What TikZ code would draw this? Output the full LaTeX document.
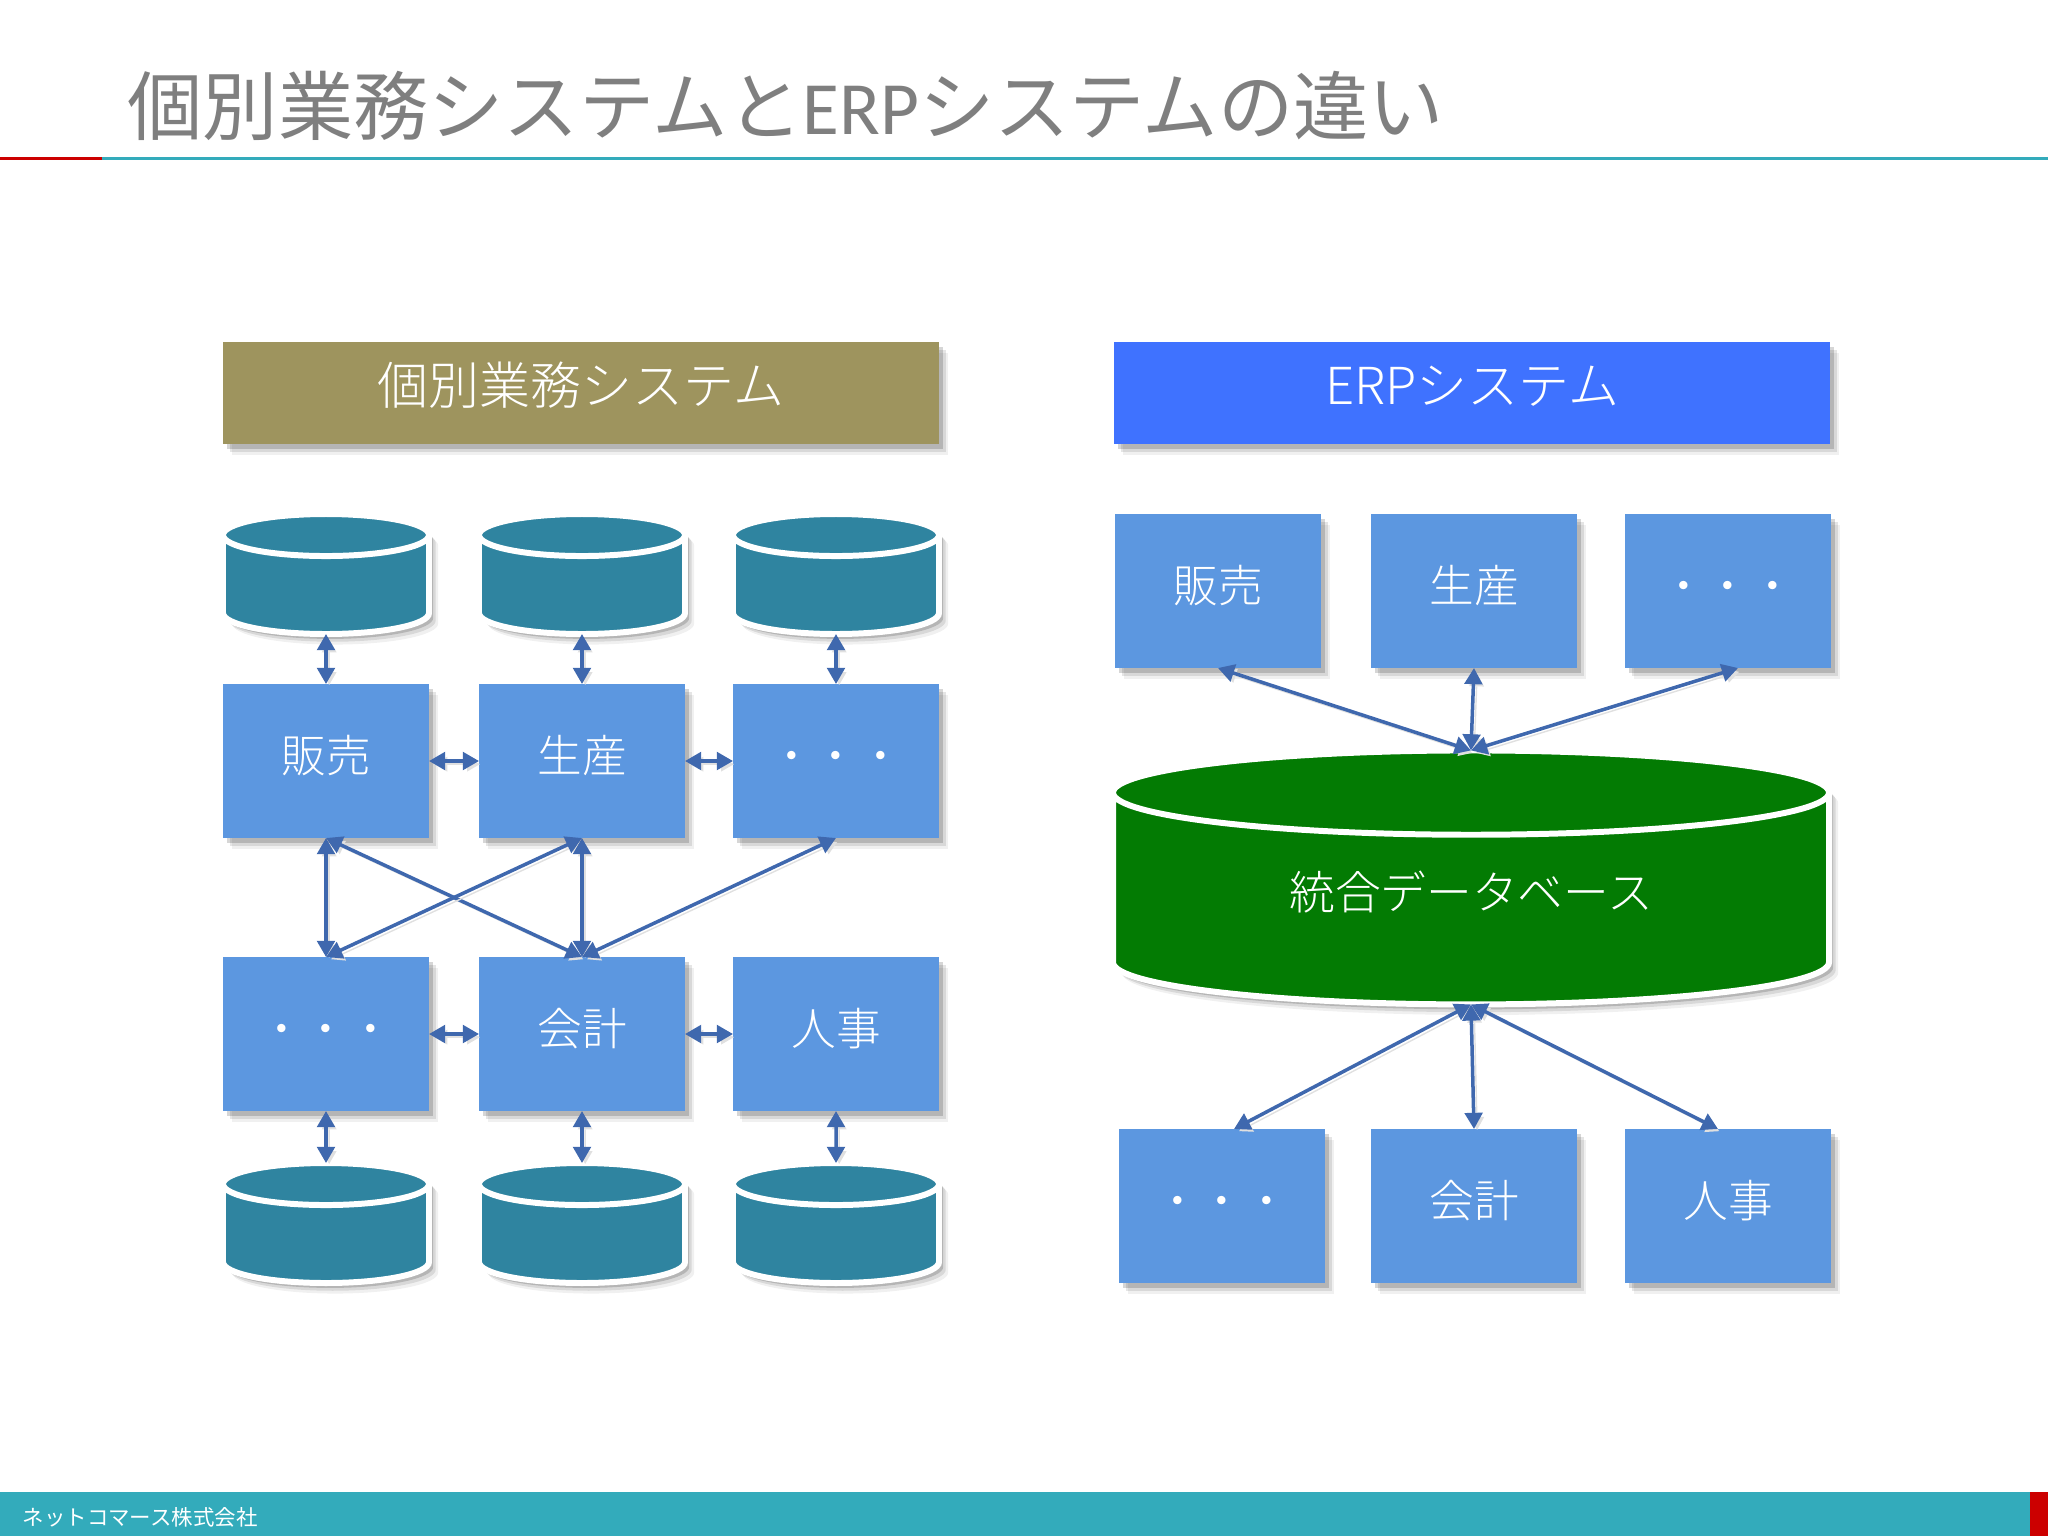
\documentclass[tikz,border=0pt]{standalone}
\usepackage{fontspec}
\setmainfont{Noto Sans CJK JP}
\newfontfamily\lightjp{Noto Sans CJK JP Light}
\newfontfamily\latinpart{Carlito}
\usetikzlibrary{shapes.geometric,arrows.meta,shadows}
\definecolor{boxblue}{HTML}{5C97E0}
\definecolor{dbteal}{HTML}{2F84A0}
\definecolor{dbgreen}{HTML}{037B03}
\definecolor{headtan}{HTML}{9E945E}
\definecolor{headblue}{HTML}{3F72FF}
\definecolor{arrowblue}{HTML}{3F68AE}
\definecolor{barteal}{HTML}{33ABBB}
\definecolor{barred}{HTML}{CC0000}
\definecolor{titlegray}{HTML}{7F7F7F}
\newcommand{\dbfill}{\rule{2cm}{0pt}}
\tikzset{
  softshadow/.style={
    general shadow={shadow xshift=2.6pt,shadow yshift=-3pt,opacity=.06,fill=black},
    general shadow={shadow xshift=1.9pt,shadow yshift=-2.2pt,opacity=.1,fill=black},
    general shadow={shadow xshift=1.2pt,shadow yshift=-1.4pt,opacity=.16,fill=black}},
  headbox/.style={draw=none, softshadow, minimum width=716*0.01cm, minimum height=102*0.01cm, inner sep=0pt, outer sep=0pt, text=white, text height=12.8pt, text depth=6.4pt, font=\lightjp\fontsize{14.5}{17}\selectfont},
  func/.style={draw=none, softshadow, fill=boxblue, minimum width=206*0.01cm, minimum height=154*0.01cm, inner sep=0pt, outer sep=0pt, text=white, text height=11pt, text depth=4.3pt, font=\lightjp\fontsize{12.7}{15}\selectfont},
  db/.style={cylinder, shape border rotate=90, draw=white, line width=1.7pt, fill=dbteal, softshadow, minimum width=206*0.01cm, minimum height=120*0.01cm, shape aspect=0.21, inner sep=0pt, outer sep=0pt},
  link/.style={arrowblue, line width=1pt, {Triangle[length=4.6pt,width=5pt]}-{Triangle[length=4.6pt,width=5pt]},
    preaction={draw=black!12, transform canvas={xshift=.9pt,yshift=-.9pt}}},
}
\begin{document}
\begin{tikzpicture}[x=0.01cm,y=-0.01cm]
  \useasboundingbox (0,0) rectangle (2048,1536);
  % title and bars
  \node [anchor=west, inner sep=0pt, text=titlegray, font=\fontsize{21.4}{25}\selectfont] (title) at (127,106) {個別業務システムと{\latinpart ERP}システムの違い};
  \fill [barred] (0,157) rectangle (102,160);
  \fill [barteal] (102,157) rectangle (2048,160);
  \fill [barteal] (0,1492) rectangle (2048,1536);
  \fill [barred] (2030,1492) rectangle (2048,1536);
  \node [anchor=west, inner sep=0pt, text=white, font=\fontsize{6.1}{7}\selectfont] (foot) at (22,1517) {ネットコマース株式会社};
  % left side
  \node [headbox, fill=headtan] (hl) at (581,393) {個別業務システム};
  \node [db] (d1) at (326,586) {\dbfill};
  \node [db] (d2) at (582,586) {\dbfill};
  \node [db] (d3) at (836,586) {\dbfill};
  \node [func] (s1) at (326,761) {販売};
  \node [func] (s2) at (582,761) {生産};
  \node [func] (s3) at (836,761) {・・・};
  \node [func] (t1) at (326,1034) {・・・};
  \node [func] (t2) at (582,1034) {会計};
  \node [func] (t3) at (836,1034) {人事};
  \node [db] (e1) at (326,1235) {\dbfill};
  \node [db] (e2) at (582,1235) {\dbfill};
  \node [db] (e3) at (836,1235) {\dbfill};
  \draw [link] (d1.south) -- (s1.north);
  \draw [link] (d2.south) -- (s2.north);
  \draw [link] (d3.south) -- (s3.north);
  \draw [link] (s1) -- (s2);
  \draw [link] (s2) -- (s3);
  \draw [link] (s1.south) -- (t1.north);
  \draw [link] (s1.south) -- (t2.north);
  \draw [link] (s2.south) -- (t1.north);
  \draw [link] (s2.south) -- (t2.north);
  \draw [link] (s3.south) -- (t2.north);
  \draw [link] (t1) -- (t2);
  \draw [link] (t2) -- (t3);
  \draw [link] (t1.south) -- (e1.north);
  \draw [link] (t2.south) -- (e2.north);
  \draw [link] (t3.south) -- (e3.north);
  % right side
  \node [headbox, fill=headblue] (hr) at (1472,393) {ERPシステム};
  \node [func] (a1) at (1218,591) {販売};
  \node [func] (a2) at (1474,591) {生産};
  \node [func] (a3) at (1728,591) {・・・};
  \node [db, fill=dbgreen, minimum width=716*0.01cm, minimum height=254*0.01cm, shape aspect=0.232, text=white, text height=11.4pt, text depth=6pt, font=\lightjp\fontsize{13}{15}\selectfont] (big) at (1471,900) {統合データベース};
  \node [func] (b1) at (1222,1206) {・・・};
  \node [func] (b2) at (1474,1206) {会計};
  \node [func] (b3) at (1728,1206) {人事};
  \draw [link] (a1.south) -- (big.north);
  \draw [link] (a2.south) -- (big.north);
  \draw [link] ([xshift=10*0.01cm]a3.south) -- (big.north);
  \draw [link] (big.south) -- ([xshift=12*0.01cm]b1.north);
  \draw [link] (big.south) -- (b2.north);
  \draw [link] (big.south) -- ([xshift=-10*0.01cm]b3.north);
\end{tikzpicture}
\end{document}
